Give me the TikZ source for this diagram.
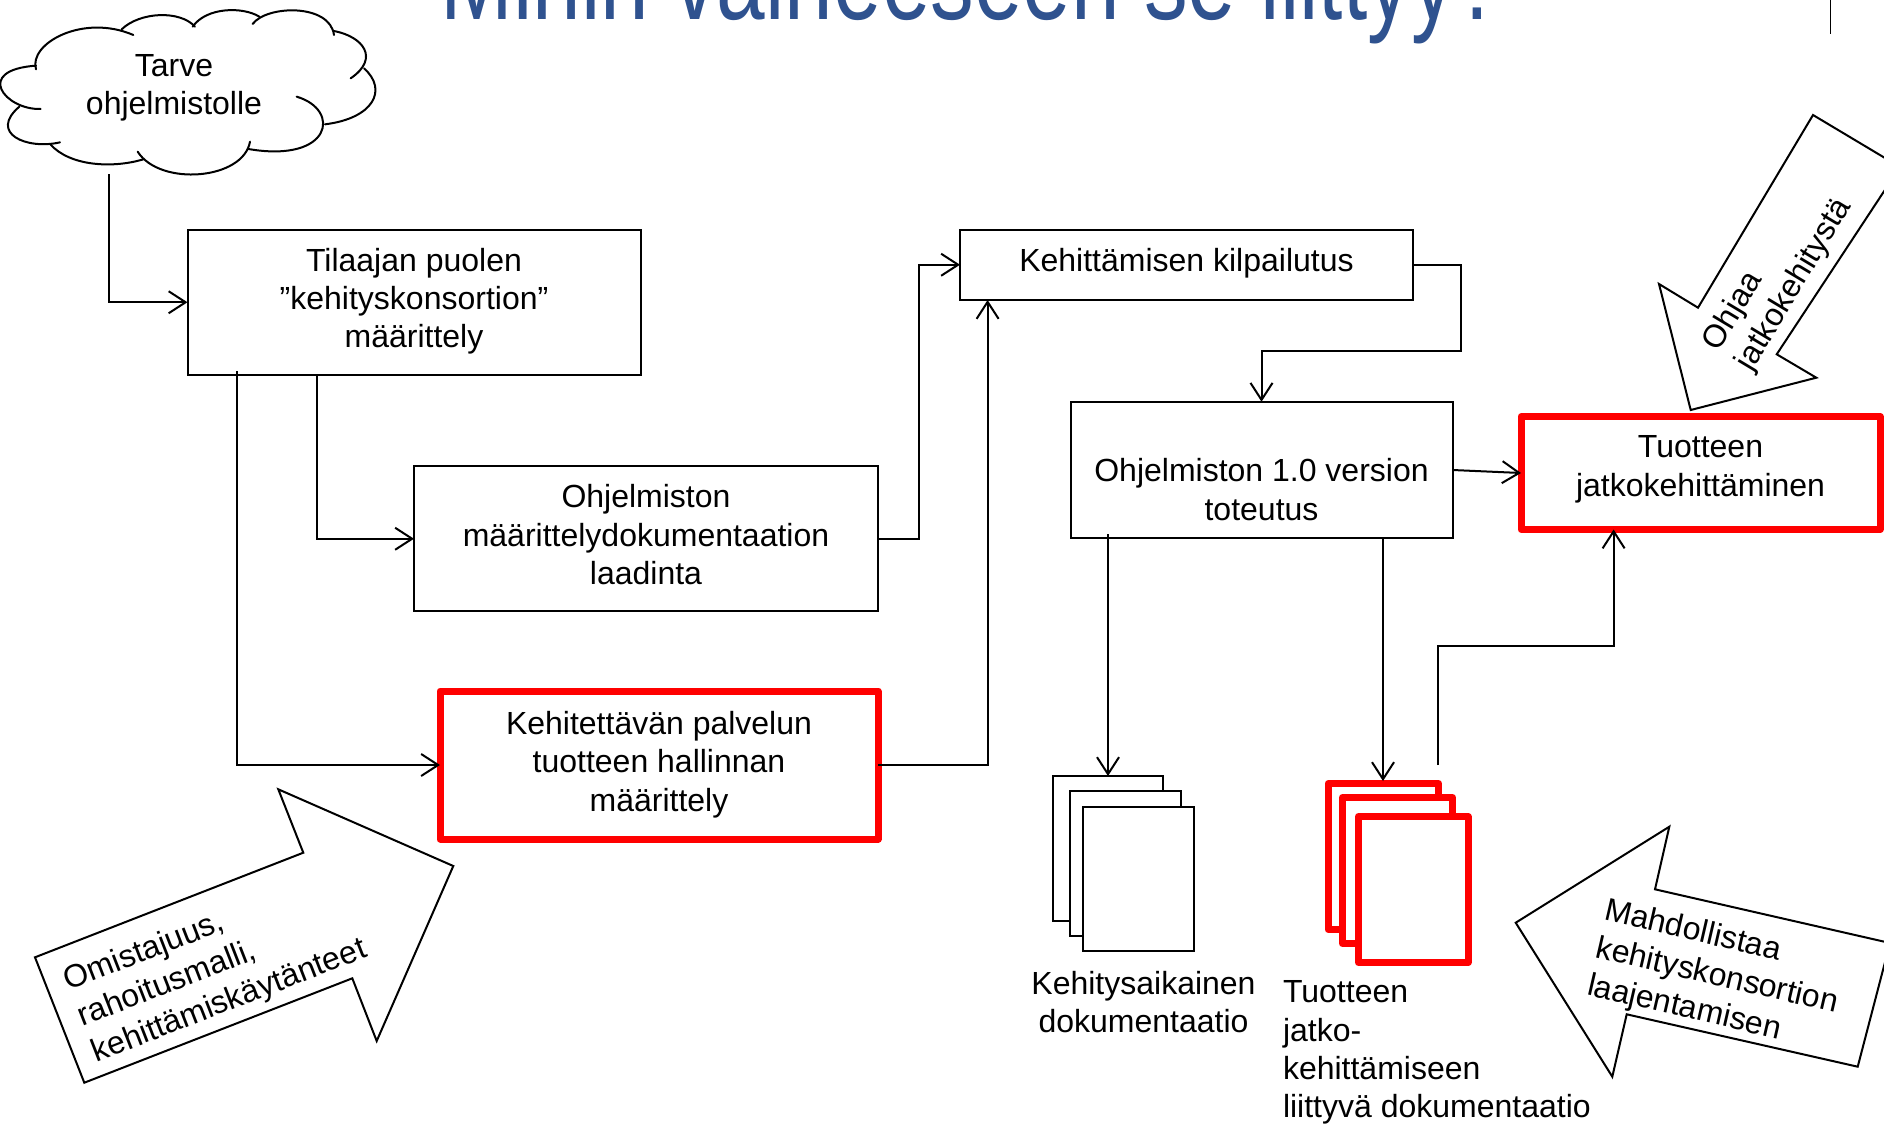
\documentclass[tikz,border=0pt]{standalone}
\usepackage{fontspec}
\setmainfont{Liberation Sans}
\usetikzlibrary{arrows.meta}
\definecolor{titleblue}{RGB}{47,82,143}
\tikzset{
  boxnode/.style={draw=black,line width=2pt,inner sep=0pt,outer sep=0pt,align=center,font=\fontsize{32}{38.4}\selectfont},
  rednode/.style={boxnode,draw=red,line width=7pt,line join=round},
  txt/.style={inner sep=0pt,outer sep=0pt,font=\fontsize{32}{38.4}\selectfont},
  conn/.style={draw=black,line width=2pt,-{Straight Barb[length=17pt,width=22pt,line width=2pt]}},
  plain/.style={draw=black,line width=2pt},
  blockarrow/.style={draw=black,line width=2pt,fill=white,line join=miter},
  docblack/.style={draw=black,line width=2pt,fill=white},
  docred/.style={draw=red,line width=7pt,fill=white,line join=round},
  cloudline/.style={draw=black,line width=2pt,line cap=round}
}
\begin{document}
\begin{tikzpicture}[x=1pt,y=-1pt]
\useasboundingbox (0,0) rectangle (1884,1124);
\clip (0,0) rectangle (1884,1124);
\fill[white] (0,0) rectangle (1884,1124);

% title, cut by the top edge
\node[anchor=base,inner sep=0pt,text=titleblue,font=\fontsize{118}{120}\selectfont] (title) at (972,20) {\scalebox{0.74}[1]{Mihin vaiheeseen se liittyy?}};
\coordinate (markA) at (1830,0);
\coordinate (markB) at (1830,34);
\draw[black,line width=0.8pt] (markA) -- (markB);

% cloud
\begin{scope}[scale=1/3]
 \draw[cloudline] (108,208) .. controls (85,130) and (250,40) .. (400,105);
 \draw[cloudline] (365,88) .. controls (420,35) and (540,30) .. (585,80);
 \draw[cloudline] (578,80) .. controls (620,20) and (730,20) .. (778,50);
 \draw[cloudline] (758,72) .. controls (800,15) and (990,10) .. (1002,105);
 \draw[cloudline] (1002,93) .. controls (1090,110) and (1140,175) .. (1052,235);
 \draw[cloudline] (1092,205) .. controls (1165,270) and (1120,355) .. (975,373);
 \draw[cloudline] (890,290) .. controls (1025,330) and (995,490) .. (745,447);
 \draw[cloudline] (750,425) .. controls (730,540) and (480,560) .. (413,455);
 \draw[cloudline] (430,478) .. controls (340,505) and (210,500) .. (150,432);
 \draw[cloudline] (180,427) .. controls (80,450) and (-35,400) .. (58,320);
 \draw[cloudline] (122,327) .. controls (15,330) and (-80,210) .. (108,197);
\end{scope}
\node[txt,align=center] (cloud) at (174,88) {Tarve\\ohjelmistolle};
\coordinate (cloudout) at (109,174);

% process boxes
\node[boxnode,minimum width=453pt,minimum height=145.5pt] (tilaaja) at (414,302.25) {Tilaajan puolen\\”kehityskonsortion”\\määrittely\\[-29.8pt]};
\node[boxnode,minimum width=464pt,minimum height=145pt] (maar) at (646,538.75) {Ohjelmiston\\määrittelydokumentaation\\laadinta\\[-29.8pt]};
\node[rednode,minimum width=438pt,minimum height=148pt] (hall) at (659,765) {Kehitettävän palvelun\\tuotteen hallinnan\\määrittely\\[-31pt]};
\node[boxnode,minimum width=453pt,minimum height=70.5pt] (kilp) at (1186.5,264.75) {Kehittämisen kilpailutus\\[-28pt]};
\node[boxnode,minimum width=382pt,minimum height=136.5pt] (impl) at (1261.5,470) {\mbox{}\\[24pt]Ohjelmiston 1.0 version\\toteutus};
\node[rednode,minimum width=359pt,minimum height=113pt] (tuot) at (1700.5,473) {Tuotteen\\jatkokehittäminen\\[-24pt]};

% documents
\draw[docblack] (1053,776) rectangle (1163,921);
\draw[docblack] (1070,791) rectangle (1181,936);
\draw[docblack] (1083,807) rectangle (1194,951);
\node[inner sep=0pt,outer sep=0pt,minimum width=110pt,minimum height=1pt] (docA) at (1108,776) {};
\draw[docred] (1328,783.5) rectangle (1438.5,929.5);
\draw[docred] (1342.5,797.5) rectangle (1452.5,943.5);
\draw[docred] (1358.5,816.5) rectangle (1468,962.5);
\node[inner sep=0pt,outer sep=0pt,minimum width=110pt,minimum height=1pt] (docB) at (1383,781) {};
\node[txt,align=center] (docAlabel) at (1143.5,1002) {Kehitysaikainen\\dokumentaatio};
\node[txt,align=left,anchor=west] (docBlabel) at (1283,1052.6) {Tuotteen\\jatko-\\kehittämiseen\\liittyvä dokumentaatio};

% connectors
\coordinate (tilaA) at (236.7,371);
\coordinate (tilaB) at (317,375);
\coordinate (kilpS) at (987.6,300);
\coordinate (implA) at (1108,534);
\coordinate (implB) at (1383,538);
\coordinate (docBout) at (1438,765);
\coordinate (tuotS) at (1613.6,529.5);
\draw[conn] (cloudout) |- (tilaaja.west);
\draw[conn] (tilaA) |- (hall.west);
\draw[conn] (tilaB) |- (maar.west);
\draw[conn] (maar.east) -- (919,538.75) |- (kilp.west);
\draw[conn] (hall.east) -| (kilpS);
\draw[conn] (kilp.east) -- (1461,264.75) -- (1461,351) -- (1261.5,351) -- (impl.north);
\draw[conn] (impl.east) -- (tuot.west);
\draw[conn] (implA) -- (docA.center);
\draw[conn] (implB) -- (docB.center);
\draw[conn] (docBout) -- (1438,646) -| (tuotS);

% block arrows
\draw[blockarrow] (35,957.3) -- (303.3,852.7) -- (278.3,789.3) -- (453.3,866) -- (376.7,1041) -- (352.3,978.3) -- (84.3,1082.7) -- cycle;
\node[txt,align=left,rotate=21.3] (owner) at (215.5,966) {Omistajuus,\\rahoitusmalli,\\kehittämiskäytänteet};
\draw[blockarrow] (1813,115) -- (1900,167) -- (1776.7,354.3) -- (1816.3,377.7) -- (1690.7,410) -- (1659,284) -- (1698,307.7) -- cycle;
\node[txt,align=left,rotate=59] (steer) at (1778,275) {Ohjaa\\jatkokehitystä};
\draw[blockarrow] (1669.3,826.7) -- (1655,889.3) -- (1890,943) -- (1857.7,1066.7) -- (1626.7,1014.3) -- (1612.3,1076.7) -- (1515.7,922.7) -- cycle;
\node[txt,align=left,rotate=-13] (enable) at (1717,977) {Mahdollistaa\\kehityskonsortion\\laajentamisen};
\end{tikzpicture}
\end{document}
